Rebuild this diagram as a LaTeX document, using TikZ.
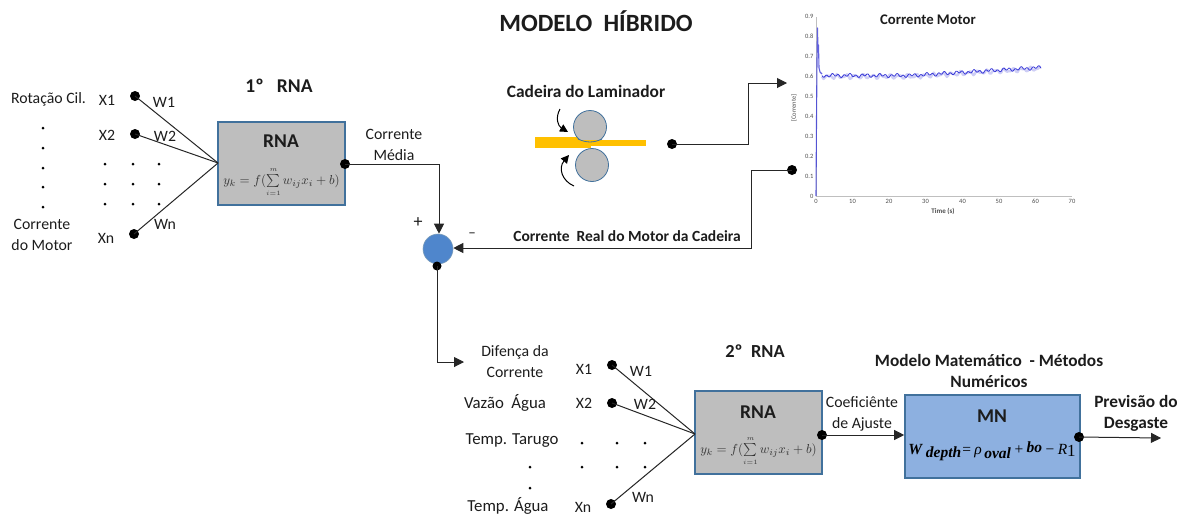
\documentclass[tikz,border=0pt]{standalone}
\usepackage{fontspec}
\setmainfont{Carlito}
\usetikzlibrary{arrows.meta,calc}
\definecolor{boxedge}{HTML}{41719C}
\definecolor{graybox}{HTML}{BEBEBE}
\definecolor{bluebox}{HTML}{8DB0E0}
\definecolor{sumblue}{HTML}{4F86CC}
\definecolor{strip}{HTML}{FFC000}
\definecolor{txt}{HTML}{1C1C1C}
\definecolor{curve}{HTML}{3A3AD8}
\newfontfamily\serifeq{Liberation Serif}
\tikzset{
  x=1pt,y=-1pt,
  lbl/.style={font=\fontsize{15.8}{20.5}\selectfont,text=txt,inner sep=0,align=center},
  lblw/.style={font=\fontsize{16.8}{20.5}\selectfont,text=txt,inner sep=0,align=center},
  bold/.style={font=\fontsize{17.3}{21}\selectfont\bfseries,text=txt,inner sep=0,align=center},
  boxtitle/.style={font=\fontsize{19.5}{19.5}\selectfont\bfseries,text=txt,inner sep=0},
  pdot/.style={circle,fill=black,inner sep=0,minimum size=10pt},
  sdot/.style={circle,fill=black,inner sep=0,minimum size=3pt},
  rnabox/.style={draw=boxedge,line width=1.6pt,fill=graybox,minimum width=127pt,minimum height=83pt,inner sep=0},
  mnbox/.style={draw=boxedge,line width=1.6pt,fill=bluebox,minimum width=175pt,minimum height=83pt,inner sep=0},
  wire/.style={draw=black!85,line width=1pt},
  arr/.style={wire,-{Triangle[length=10pt,width=10pt]}},
  roller/.style={circle,draw=boxedge,line width=.8pt,fill=graybox,minimum size=33pt,inner sep=0},
  tick/.style={font=\fontsize{6.5}{7}\selectfont,text=black!70,inner sep=0},
  rnaeqn/.style={inner sep=0,scale=1.3,text=black!80},
}
\newcommand{\rnaeq}{$y_k=f(\sum\limits_{\scriptscriptstyle i=1}^{\scriptscriptstyle m}w_{ij}x_i+b)$}
\begin{document}
\begin{tikzpicture}
\useasboundingbox (0,0) rectangle (1183,515);
\node[font=\fontsize{24.8}{26}\selectfont\bfseries,text=txt,inner sep=0] (title) at (596,21) {MODELO\ \ HÍBRIDO};

% first network
\node[rnabox] (rna1) at (281.5,163.5) {};
\node[boxtitle] (rna1t) at (281,141) {RNA};
\node[rnaeqn] (eq1) at (281.5,182) {\rnaeq};
\node[boxtitle] (t1) at (279,86) {1º\ \ \ RNA};
\coordinate (c1) at (218,163);
\node[pdot] (a1) at (135,96) {};
\node[pdot] (a2) at (135,134) {};
\node[pdot] (a3) at (134,234) {};
\draw[wire] (a1.center) -- (c1);
\draw[wire] (a2.center) -- (c1);
\draw[wire] (a3.center) -- (c1);
\node[lbl] (l1) at (48.5,99) {Rotação Cil.};
\node[lbl] (l2) at (42,235) {Corrente\\do Motor};
\node[lbl] (x1) at (107,100) {X1};
\node[lbl] (x2) at (107,135) {X2};
\node[lbl] (xn) at (106,238) {Xn};
\node[lbl] (w1) at (164,102) {W1};
\node[lbl] (w2) at (165,136) {W2};
\node[lbl] (wn) at (165,224) {Wn};
\foreach \i/\px/\py in {1/43/128,2/43/148,3/43/168,4/43/187,5/43/207,
  6/105/164,7/133/164,8/159/164,9/105/184,10/133/184,11/159/184,12/105/204,13/133/204,14/159/204}
  \node[sdot] (da\i) at (\px,\py) {};

% summation and output of first network
\node[circle,draw=boxedge!70,line width=.6pt,fill=sumblue,minimum size=30pt,inner sep=0] (sum) at (438,249) {};
\node[pdot] (o1) at (345,164) {};
\node[pdot,minimum size=9pt] (s1) at (437,266) {};
\coordinate (in1) at (439,164);
\draw[arr] (o1.center) -- (in1) -- (sum.north -| in1);
\node[lbl] (cm) at (394,145) {Corrente\\Média};
\node[lbl,font=\fontsize{18}{18}\selectfont] (plus) at (418,223) {+};
\node[lbl,font=\fontsize{15}{16}\selectfont] (minus) at (472,235) {–};

% rolling stand
\node[bold,font=\fontsize{17.4}{21}\selectfont\bfseries] (cad) at (586,91) {Cadeira do Laminador};
\fill[strip] (535,137) rectangle (591,148);
\fill[strip] (591,140) rectangle (646,146);
\node[roller] (r1) at (590,127) {};
\node[roller] (r2) at (592,165) {};
\fill[strip] (574,140) rectangle (606,146);
\draw[boxedge,line width=.8pt] (578,139) to[bend right=25] (602,139);
\coordinate (a1s) at (560,109);
\coordinate (a1e) at (568,132);
\coordinate (a2s) at (574,186);
\coordinate (a2e) at (569,155);
\draw[black,line width=1pt,-{Triangle[length=8pt,width=8pt]}] (a1s) .. controls (555,118) and (558,126) .. (a1e);
\draw[black,line width=1pt,-{Triangle[length=8pt,width=8pt]}] (a2s) .. controls (562,181) and (558,168) .. (a2e);
\node[pdot] (o2) at (672,144) {};
\coordinate (k1) at (748,144);
\coordinate (k2) at (748,83);
\coordinate (e2) at (787,83);
\draw[arr] (o2.center) -- (k1) -- (k2) -- (e2);
\node[pdot] (o3) at (792,170) {};
\coordinate (k3) at (751,170);
\coordinate (k4) at (751,248);
\draw[arr] (o3.center) -- (k3) -- (k4) -- (sum.east |- k4);
\node[bold,font=\fontsize{15.5}{21}\selectfont\bfseries] (crm) at (627,236) {Corrente\ \ Real do Motor da Cadeira};

% chart
\begin{scope}
  \draw[black!25,line width=.8pt] (816,17) -- (816,196) -- (1072,196);
  \foreach \v/\ypx in {0/196,0.1/176,0.2/156,0.3/136.5,0.4/116.5,0.5/96.5,0.6/76.5,0.7/56.5,0.8/36.5,0.9/16.5}
    \node[tick,anchor=east] at (813.5,\ypx) {\v};
  \foreach \v/\xpx in {0/816,10/852.5,20/889,30/925.5,40/962.5,50/999,60/1035.5,70/1072}
    \node[tick,anchor=north] at (\xpx,199) {\v};
  \node[tick,rotate=90] (yl) at (794,108) {[Corrente]};
  \node[tick,font=\fontsize{7}{8}\selectfont\bfseries] (xl) at (943,211) {Time (s)};
  \node[bold,font=\fontsize{14.7}{16}\selectfont\bfseries] (chartt) at (928,19.5) {Corrente Motor};
  \draw[curve!45,line width=2.4pt,line join=round,opacity=.55]
    plot[domain=0:219,samples=150,variable=\t] ({822+\t},{76.5-8*max(0,\t-90)/129+1.6*sin(\t*41)+1.0*sin(\t*67)});
  \draw[curve,line width=.8pt,line join=round]
    plot[domain=0:219,samples=220,variable=\t] ({822+\t},{75.5-8*max(0,\t-90)/129+1.3*sin(\t*61)+.9*sin(\t*23)});
  \draw[curve,line width=1.1pt,line join=round,opacity=.8]
    (816,196) -- (816.5,120) -- (817,60) -- (817.5,28) -- (818,52) -- (818.5,45) -- (819,68) -- (820,72) -- (822,74);
\end{scope}

% second network
\coordinate (k5) at (437,362);
\coordinate (e5) at (464,362);
\draw[arr] (s1.center) -- (k5) -- (e5);
\node[lbl] (dc) at (515,361.5) {Difença da\\Corrente};
\node[lblw] (va) at (505,403) {Vazão\ \ Água};
\node[lblw] (tt) at (512,441) {Temp. Tarugo};
\node[lblw] (ta) at (508,506) {Temp. Água};
\node[rnabox] (rna2) at (758.5,432.5) {};
\node[boxtitle] (rna2t) at (758,412) {RNA};
\node[rnaeqn] (eq2) at (758.5,451) {\rnaeq};
\node[bold,font=\fontsize{18.4}{21}\selectfont\bfseries] (t2) at (755,351) {2º\ \ RNA};
\coordinate (c2) at (695,434);
\node[pdot] (b1) at (612,365) {};
\node[pdot] (b2) at (612,403) {};
\node[pdot] (b3) at (611,504) {};
\draw[wire] (b1.center) -- (c2);
\draw[wire] (b2.center) -- (c2);
\draw[wire] (b3.center) -- (c2);
\node[lbl] (y1) at (584,369) {X1};
\node[lbl] (y2) at (584,403) {X2};
\node[lbl] (yn) at (583,507) {Xn};
\node[lbl] (v1) at (641,371) {W1};
\node[lbl] (v2) at (645,404) {W2};
\node[lbl] (vn) at (643,497) {Wn};
\foreach \i/\px/\py in {1/582/443,2/617/443,3/645/443,4/530/467,5/582/467,6/617/467,7/645/467,8/530/488}
  \node[sdot] (db\i) at (\px,\py) {};

% numerical model
\node[mnbox] (mn) at (992.5,436.5) {};
\node[boxtitle] (mnt) at (992,416) {MN};
\node[inner sep=0,text=black] (eq3) at (992,451)
  {\fontsize{15.5}{16}\selectfont\serifeq\bfseries\itshape W \raisebox{-3pt}{depth}\textmd{=\,ρ\,}\raisebox{-4pt}{oval}\textmd{\,+\,}\raisebox{2pt}{bo}\textmd{\,−\,R}{\mdseries\upshape\fontsize{17}{17}\selectfont\raisebox{-2pt}{1}}};
\node[bold] (mm) at (989,370.5) {Modelo Matemático\ \ - Métodos\\Numéricos};
\node[pdot] (o4) at (822,435) {};
\draw[arr] (o4.center) -- (mn.west |- o4);
\node[lbl] (ca) at (862,414) {Coeficiênte\\de Ajuste};
\node[pdot] (o5) at (1079,437) {};
\coordinate (e6) at (1161,438);
\draw[arr] (o5.center) -- (e6);
\node[bold] (pd) at (1136,413.5) {Previsão do\\Desgaste};
\end{tikzpicture}
\end{document}
